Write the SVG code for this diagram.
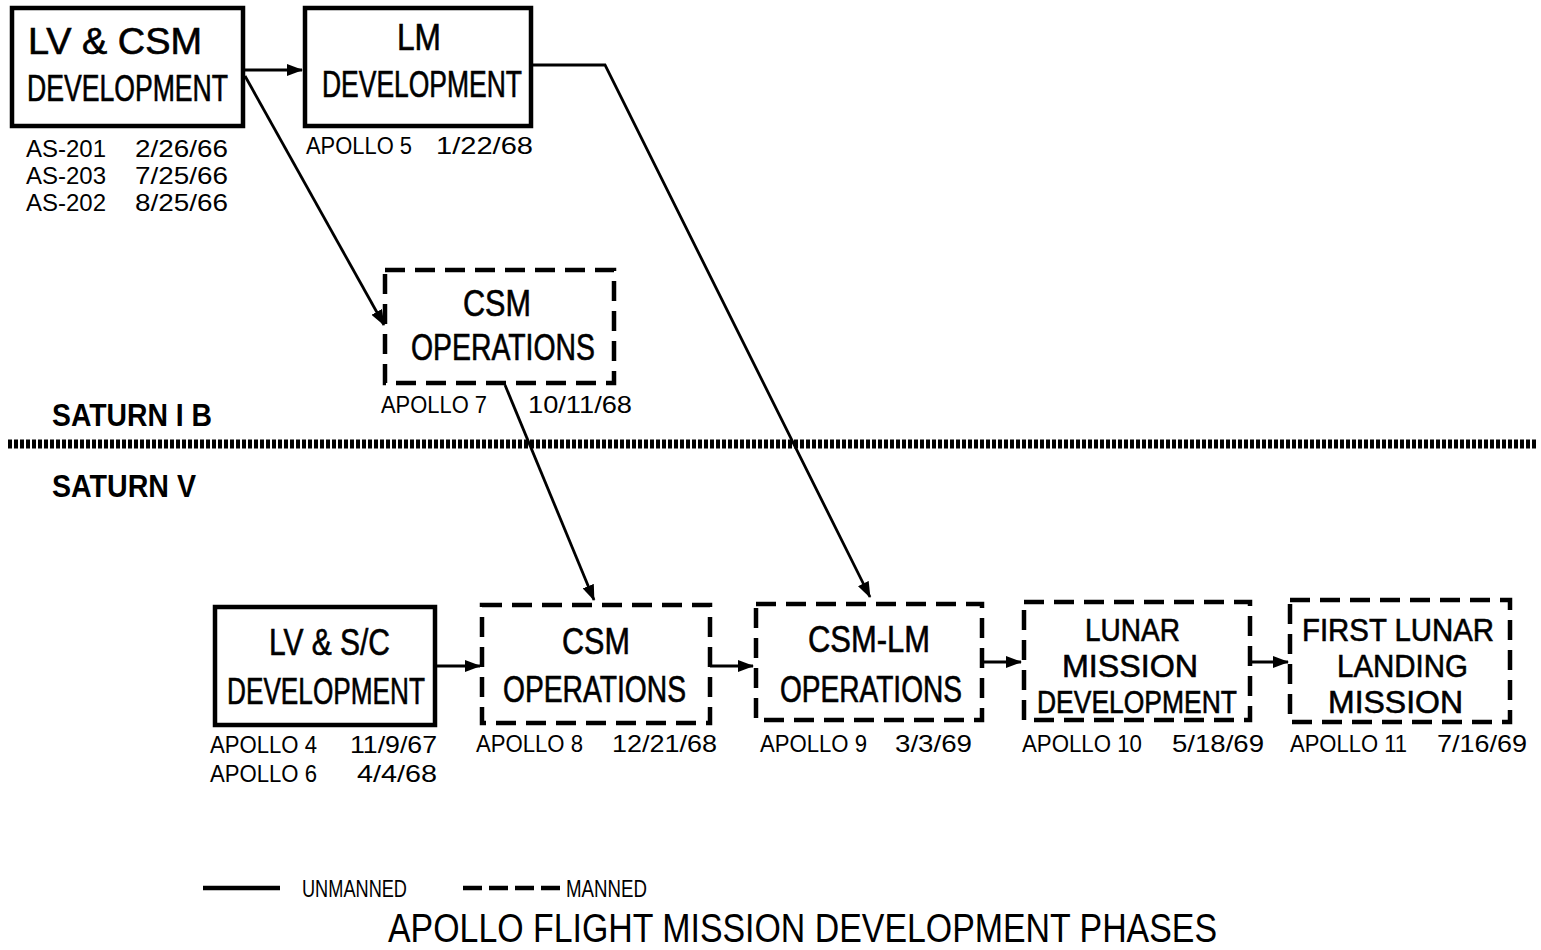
<svg xmlns="http://www.w3.org/2000/svg" width="1541" height="950" viewBox="0 0 1541 950">
<style>
.solid{fill:none;stroke:#000;stroke-width:4.5}
.dash{fill:none;stroke:#000;stroke-width:4.5;stroke-dasharray:20 10}
.big{font-family:"Liberation Sans",Arial,sans-serif;font-size:36px;fill:#000;stroke:#000;stroke-width:0.6}
.big3{font-family:"Liberation Sans",Arial,sans-serif;font-size:32px;fill:#000;stroke:#000;stroke-width:0.6}
.lab{font-family:"Liberation Sans",Arial,sans-serif;font-size:24px;fill:#000}
.sat{font-family:"Liberation Sans",Arial,sans-serif;font-size:32px;font-weight:bold;fill:#000}
.leg{font-family:"Liberation Sans",Arial,sans-serif;font-size:24px;fill:#000}
.title{font-family:"Liberation Sans",Arial,sans-serif;font-size:41px;fill:#000}
.conn{fill:none;stroke:#000;stroke-width:2.8}
</style>
<defs>
<marker id="arr" markerUnits="userSpaceOnUse" markerWidth="16" markerHeight="12" refX="15" refY="6" orient="auto">
<path d="M0,0 L16,6 L0,12 Z" fill="#000"/>
</marker>
</defs>
<rect width="1541" height="950" fill="#fff"/>

<g id="connectors">
<line class="conn" x1="245" y1="70" x2="302" y2="70" marker-end="url(#arr)"/>
<line class="conn" x1="245" y1="76" x2="384" y2="325" marker-end="url(#arr)"/>
<polyline class="conn" points="531,65 605,65 870,597" marker-end="url(#arr)"/>
<line class="conn" x1="505" y1="385" x2="594" y2="600" marker-end="url(#arr)"/>
<line class="conn" x1="436" y1="666" x2="480" y2="666" marker-end="url(#arr)"/>
<line class="conn" x1="710" y1="666" x2="753" y2="666" marker-end="url(#arr)"/>
<line class="conn" x1="982" y1="662" x2="1021" y2="662" marker-end="url(#arr)"/>
<line class="conn" x1="1250" y1="662" x2="1288" y2="662" marker-end="url(#arr)"/>
</g>

<g id="lvcsm-dev">
<rect class="solid" x="12" y="8" width="231" height="118"/>
<text class="big" x="28" y="54" textLength="174" lengthAdjust="spacingAndGlyphs">LV &amp; CSM</text>
<text class="big" x="27" y="101" textLength="201" lengthAdjust="spacingAndGlyphs">DEVELOPMENT</text>
<text class="lab" x="26" y="157" textLength="80" lengthAdjust="spacingAndGlyphs">AS-201</text>
<text class="lab" x="135" y="157" textLength="93" lengthAdjust="spacingAndGlyphs">2/26/66</text>
<text class="lab" x="26" y="184" textLength="80" lengthAdjust="spacingAndGlyphs">AS-203</text>
<text class="lab" x="135" y="184" textLength="93" lengthAdjust="spacingAndGlyphs">7/25/66</text>
<text class="lab" x="26" y="211" textLength="80" lengthAdjust="spacingAndGlyphs">AS-202</text>
<text class="lab" x="135" y="211" textLength="93" lengthAdjust="spacingAndGlyphs">8/25/66</text>
</g>

<g id="lm-dev">
<rect class="solid" x="305" y="8" width="226" height="118"/>
<text class="big" x="397" y="50" textLength="44" lengthAdjust="spacingAndGlyphs">LM</text>
<text class="big" x="322" y="97" textLength="200" lengthAdjust="spacingAndGlyphs">DEVELOPMENT</text>
<text class="lab" x="306" y="154" textLength="106" lengthAdjust="spacingAndGlyphs">APOLLO 5</text>
<text class="lab" x="436" y="154" textLength="97" lengthAdjust="spacingAndGlyphs">1/22/68</text>
</g>

<g id="csm-ops-1">
<rect class="dash" x="385" y="270" width="229" height="113"/>
<text class="big" x="463" y="316" textLength="68" lengthAdjust="spacingAndGlyphs">CSM</text>
<text class="big" x="411" y="360" textLength="184" lengthAdjust="spacingAndGlyphs">OPERATIONS</text>
<text class="lab" x="381" y="413" textLength="106" lengthAdjust="spacingAndGlyphs">APOLLO 7</text>
<text class="lab" x="528" y="413" textLength="104" lengthAdjust="spacingAndGlyphs">10/11/68</text>
</g>

<g id="separator">
<text class="sat" x="52" y="426" textLength="160" lengthAdjust="spacingAndGlyphs">SATURN I B</text>
<line x1="8" y1="444" x2="1537" y2="444" stroke="#000" stroke-width="9" stroke-dasharray="4 2"/>
<text class="sat" x="52" y="497" textLength="144" lengthAdjust="spacingAndGlyphs">SATURN V</text>
</g>

<g id="lvsc-dev">
<rect class="solid" x="215" y="607" width="220" height="118"/>
<text class="big" x="269" y="655" textLength="121" lengthAdjust="spacingAndGlyphs">LV &amp; S/C</text>
<text class="big" x="227" y="704" textLength="198" lengthAdjust="spacingAndGlyphs">DEVELOPMENT</text>
<text class="lab" x="210" y="753" textLength="107" lengthAdjust="spacingAndGlyphs">APOLLO 4</text>
<text class="lab" x="350" y="753" textLength="87" lengthAdjust="spacingAndGlyphs">11/9/67</text>
<text class="lab" x="210" y="782" textLength="107" lengthAdjust="spacingAndGlyphs">APOLLO 6</text>
<text class="lab" x="357" y="782" textLength="80" lengthAdjust="spacingAndGlyphs">4/4/68</text>
</g>

<g id="csm-ops-2">
<rect class="dash" x="482" y="605" width="228" height="118"/>
<text class="big" x="562" y="654" textLength="68" lengthAdjust="spacingAndGlyphs">CSM</text>
<text class="big" x="503" y="702" textLength="183" lengthAdjust="spacingAndGlyphs">OPERATIONS</text>
<text class="lab" x="476" y="752" textLength="107" lengthAdjust="spacingAndGlyphs">APOLLO 8</text>
<text class="lab" x="612" y="752" textLength="105" lengthAdjust="spacingAndGlyphs">12/21/68</text>
</g>

<g id="csm-lm-ops">
<rect class="dash" x="756" y="604" width="226" height="116"/>
<text class="big" x="808" y="652" textLength="122" lengthAdjust="spacingAndGlyphs">CSM-LM</text>
<text class="big" x="780" y="702" textLength="182" lengthAdjust="spacingAndGlyphs">OPERATIONS</text>
<text class="lab" x="760" y="752" textLength="107" lengthAdjust="spacingAndGlyphs">APOLLO 9</text>
<text class="lab" x="895" y="752" textLength="77" lengthAdjust="spacingAndGlyphs">3/3/69</text>
</g>

<g id="lunar-mission-dev">
<rect class="dash" x="1024" y="602" width="226" height="118"/>
<text class="big3" x="1085" y="641" textLength="95" lengthAdjust="spacingAndGlyphs">LUNAR</text>
<text class="big3" x="1062" y="677" textLength="136" lengthAdjust="spacingAndGlyphs">MISSION</text>
<text class="big3" x="1037" y="713" textLength="200" lengthAdjust="spacingAndGlyphs">DEVELOPMENT</text>
<text class="lab" x="1022" y="752" textLength="120" lengthAdjust="spacingAndGlyphs">APOLLO 10</text>
<text class="lab" x="1172" y="752" textLength="92" lengthAdjust="spacingAndGlyphs">5/18/69</text>
</g>

<g id="first-lunar-landing">
<rect class="dash" x="1290" y="600" width="220" height="122"/>
<text class="big3" x="1302" y="641" textLength="192" lengthAdjust="spacingAndGlyphs">FIRST LUNAR</text>
<text class="big3" x="1337" y="677" textLength="131" lengthAdjust="spacingAndGlyphs">LANDING</text>
<text class="big3" x="1328" y="713" textLength="135" lengthAdjust="spacingAndGlyphs">MISSION</text>
<text class="lab" x="1290" y="752" textLength="117" lengthAdjust="spacingAndGlyphs">APOLLO 11</text>
<text class="lab" x="1437" y="752" textLength="90" lengthAdjust="spacingAndGlyphs">7/16/69</text>
</g>

<g id="legend">
<line x1="203" y1="888" x2="280" y2="888" stroke="#000" stroke-width="4.5"/>
<text class="leg" x="302" y="897" textLength="105" lengthAdjust="spacingAndGlyphs">UNMANNED</text>
<line x1="463" y1="888" x2="561" y2="888" stroke="#000" stroke-width="4.5" stroke-dasharray="19 7"/>
<text class="leg" x="566" y="897" textLength="81" lengthAdjust="spacingAndGlyphs">MANNED</text>
</g>

<g id="title">
<text class="title" x="388" y="942" textLength="829" lengthAdjust="spacingAndGlyphs">APOLLO FLIGHT MISSION DEVELOPMENT PHASES</text>
</g>
</svg>
